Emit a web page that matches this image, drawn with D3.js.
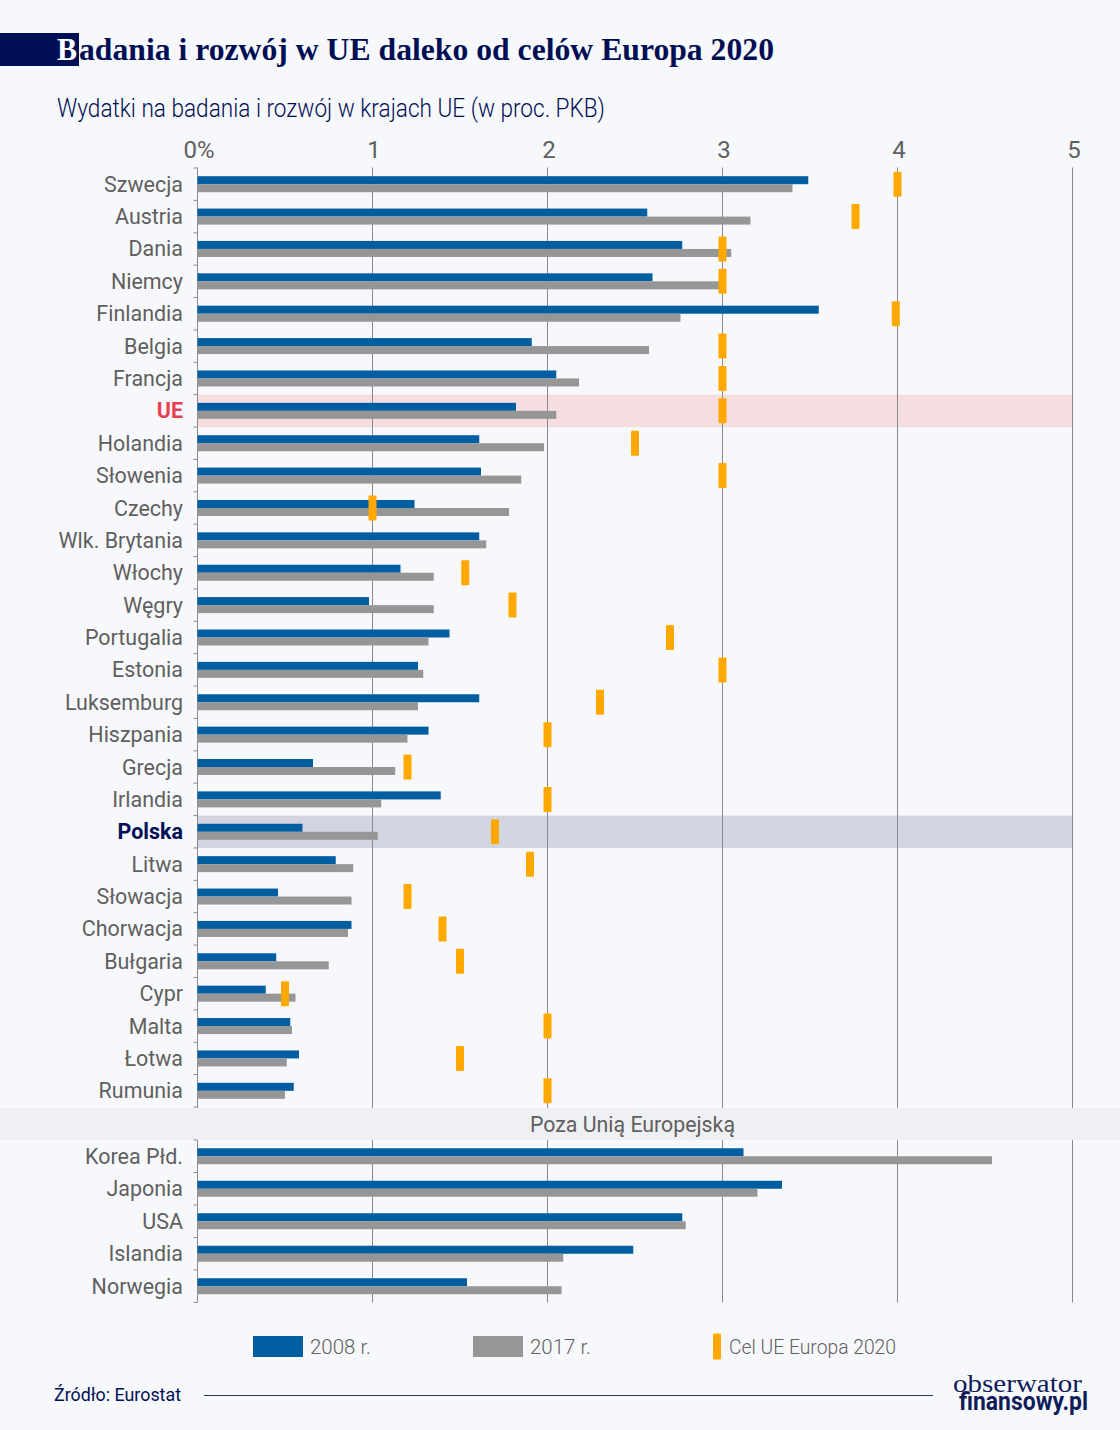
<!DOCTYPE html>
<html>
<head>
<meta charset="utf-8">
<script src="https://d3js.org/d3.v7.min.js"></script>
<style>
  html, body { margin: 0; padding: 0; background: #f7f8fb; }
  svg { display: block; }
  text { font-family: Roboto, sans-serif; }
  .axis .domain { display: none; }
</style>
</head>
<body>
<div id="chart"></div>
<script>
const euCountries = ['Szwecja', 'Austria', 'Dania', 'Niemcy', 'Finlandia', 'Belgia', 'Francja', 'UE', 'Holandia', 'Słowenia',
    'Czechy', 'Wlk. Brytania', 'Włochy', 'Węgry', 'Portugalia', 'Estonia', 'Luksemburg', 'Hiszpania', 'Grecja', 'Irlandia',
    'Polska', 'Litwa', 'Słowacja', 'Chorwacja', 'Bułgaria', 'Cypr', 'Malta', 'Łotwa', 'Rumunia'];
const eu2008 = [3.49, 2.57, 2.77, 2.60, 3.55, 1.91, 2.05, 1.82, 1.61, 1.62,
    1.24, 1.61, 1.16, 0.98, 1.44, 1.26, 1.61, 1.32, 0.66, 1.39,
    0.60, 0.79, 0.46, 0.88, 0.45, 0.39, 0.53, 0.58, 0.55];
const eu2017 = [3.40, 3.16, 3.05, 3.02, 2.76, 2.58, 2.18, 2.05, 1.98, 1.85,
    1.78, 1.65, 1.35, 1.35, 1.32, 1.29, 1.26, 1.20, 1.13, 1.05,
    1.03, 0.89, 0.88, 0.86, 0.75, 0.56, 0.54, 0.51, 0.50];
const euTarget = [4, 3.76, 3, 3, 3.99, 3, 3, 3, 2.5, 3,
    1, null, 1.53, 1.8, 2.7, 3, 2.3, 2, 1.2, 2,
    1.7, 1.9, 1.2, 1.4, 1.5, 0.5, 2, 1.5, 2];

const otherCountries = ['Korea Płd.', 'Japonia', 'USA', 'Islandia', 'Norwegia'];
const other2008 = [3.12, 3.34, 2.77, 2.49, 1.54];
const other2017 = [4.54, 3.20, 2.79, 2.09, 2.08];

const xTicks = [0, 1, 2, 3, 4, 5];
const legendItems = ['2008 r.', '2017 r.', 'Cel UE Europa 2020'];

const colors = { y2008: '#005ea1', y2017: '#969696', target: '#ffa800', navy: '#000f55', label: '#5f5f5f' };

const width = 1120;
const height = 1430;
const svg = d3.select('#chart').append('svg')
    .attr('width', width)
    .attr('height', height);

svg.append('rect').attr('width', width).attr('height', height).attr('fill', '#f7f8fb');

const xScale = d3.scaleLinear().domain([0, 5]).range([197.5, 1072.5]);
const yEu = d3.scaleBand().domain(euCountries).range([168, 1107]);
const yOther = d3.scaleBand().domain(otherCountries).range([1140, 1302.5]);

// squeeze text horizontally, the original face is narrower than anything installed
function squeeze(sel, k) {
    sel.each(function() {
        const len = this.getComputedTextLength();
        d3.select(this).attr('textLength', len * k).attr('lengthAdjust', 'spacingAndGlyphs');
    });
}

// title
svg.append('rect').attr('x', 0).attr('y', 33).attr('width', 79).attr('height', 33).attr('fill', colors.navy);
svg.append('text').attr('x', 57).attr('y', 60)
    .attr('font-size', 31).attr('font-weight', 700).attr('fill', '#fff')
    .attr('textLength', 20).attr('lengthAdjust', 'spacingAndGlyphs')
    .style('font-family', 'Liberation Serif, serif')
    .text('B');
svg.append('text').attr('x', 79).attr('y', 60)
    .attr('font-size', 31).attr('font-weight', 700).attr('fill', colors.navy)
    .attr('textLength', 695).attr('lengthAdjust', 'spacingAndGlyphs')
    .style('font-family', 'Liberation Serif, serif')
    .text('adania i rozwój w UE daleko od celów Europa 2020');
svg.append('text').attr('x', 57).attr('y', 117)
    .attr('font-size', 25).attr('font-weight', 300).attr('fill', colors.navy)
    .attr('textLength', 548).attr('lengthAdjust', 'spacingAndGlyphs')
    .text('Wydatki na badania i rozwój w krajach UE (w proc. PKB)');

// highlighted rows
[['UE', '#f6dde0'], ['Polska', '#d2d4e2']].forEach(([name, fill]) => {
    svg.append('rect')
        .attr('x', xScale(0))
        .attr('y', yEu(name))
        .attr('width', xScale(5) - xScale(0))
        .attr('height', yEu.bandwidth())
        .attr('fill', fill);
});

// band between the two groups
svg.append('rect').attr('x', 0).attr('y', 1108).attr('width', width).attr('height', 32).attr('fill', '#eff0f4');
svg.append('text').attr('x', 632.5).attr('y', 1132)
    .attr('text-anchor', 'middle').attr('font-size', 22).attr('fill', colors.label)
    .attr('textLength', 205).attr('lengthAdjust', 'spacingAndGlyphs')
    .text('Poza Unią Europejską');

// grid
[[yEu.range()[0] - 0.5, yEu.range()[1] + 1], [yOther.range()[0], yOther.range()[1]]].forEach(([y0, y1]) => {
    svg.append('g').selectAll('line').data(xTicks).join('line')
        .attr('x1', d => xScale(d)).attr('x2', d => xScale(d))
        .attr('y1', y0).attr('y2', y1)
        .attr('stroke', '#8a8a8a').attr('stroke-width', 1);
});

// x axis labels
const xAxis = d3.axisTop(xScale)
    .tickValues(xTicks)
    .tickSize(0)
    .tickPadding(0)
    .tickFormat(d => d === 0 ? '0%' : d);
svg.append('g')
    .attr('class', 'axis x-axis')
    .attr('transform', 'translate(1,158)')
    .call(xAxis)
    .selectAll('text')
    .attr('font-size', 24)
    .attr('fill', colors.label)
    .style('font-family', 'Roboto, sans-serif');

function drawGroup(names, yScale, v2008, v2017, target) {
    const barH = 8;
    const g = svg.append('g');

    // row ticks at the band edges
    const edges = names.map(d => yScale(d)).concat(yScale.range()[1]);
    g.selectAll('line.row-tick').data(edges).join('line')
        .attr('class', 'row-tick')
        .attr('x1', xScale(0) - 4).attr('x2', xScale(0))
        .attr('y1', d => d).attr('y2', d => d)
        .attr('stroke', '#8a8a8a');

    const yAxis = d3.axisLeft(yScale).tickSize(0).tickPadding(14.5);
    const axisG = g.append('g')
        .attr('class', 'axis y-axis')
        .attr('transform', 'translate(' + xScale(0) + ',0.5)')
        .call(yAxis);
    axisG.selectAll('text')
        .attr('font-size', 22)
        .attr('fill', d => d === 'UE' ? '#e8404e' : d === 'Polska' ? colors.navy : colors.label)
        .attr('font-weight', d => (d === 'UE' || d === 'Polska') ? 700 : 400)
        .style('font-family', 'Roboto, sans-serif')
        .call(squeeze, 0.975);

    g.selectAll('rect.y2008').data(names).join('rect')
        .attr('class', 'y2008')
        .attr('x', xScale(0))
        .attr('y', d => yScale(d) + yScale.bandwidth() / 2 - barH)
        .attr('width', (d, i) => xScale(v2008[i]) - xScale(0))
        .attr('height', barH)
        .attr('fill', colors.y2008);

    g.selectAll('rect.y2017').data(names).join('rect')
        .attr('class', 'y2017')
        .attr('x', xScale(0))
        .attr('y', d => yScale(d) + yScale.bandwidth() / 2)
        .attr('width', (d, i) => xScale(v2017[i]) - xScale(0))
        .attr('height', barH)
        .attr('fill', colors.y2017);

    if (target) {
        g.selectAll('rect.target').data(names.filter((d, i) => target[i] !== null)).join('rect')
            .attr('class', 'target')
            .attr('x', d => xScale(target[names.indexOf(d)]) - 4)
            .attr('y', d => yScale(d) + yScale.bandwidth() / 2 - 12.5)
            .attr('width', 8)
            .attr('height', 25)
            .attr('rx', 1)
            .attr('fill', colors.target);
    }
}

drawGroup(euCountries, yEu, eu2008, eu2017, euTarget);
drawGroup(otherCountries, yOther, other2008, other2017, null);

// legend
const legendY = 1346.5;
const legendTextX = [310, 530, 729];
const legendTextLen = [61, 61, 167];
const legend = svg.append('g');
legend.append('rect').attr('x', 253).attr('y', legendY - 10.5).attr('width', 50).attr('height', 21).attr('fill', colors.y2008);
legend.append('rect').attr('x', 473).attr('y', legendY - 10.5).attr('width', 50).attr('height', 21).attr('fill', colors.y2017);
legend.append('rect').attr('x', 713).attr('y', legendY - 13).attr('width', 8).attr('height', 26).attr('rx', 1).attr('fill', colors.target);
legend.selectAll('text').data(legendItems).join('text')
    .attr('x', (d, i) => legendTextX[i])
    .attr('y', legendY + 7.5)
    .attr('font-size', 21)
    .attr('font-weight', 300)
    .attr('fill', colors.label)
    .attr('textLength', (d, i) => legendTextLen[i])
    .attr('lengthAdjust', 'spacingAndGlyphs')
    .text(d => d);

// footer
svg.append('text').attr('x', 54).attr('y', 1401)
    .attr('font-size', 18).attr('fill', colors.navy)
    .attr('textLength', 127).attr('lengthAdjust', 'spacingAndGlyphs')
    .text('Źródło: Eurostat');
svg.append('line').attr('x1', 204).attr('x2', 933).attr('y1', 1395.5).attr('y2', 1395.5)
    .attr('stroke', '#2a3566').attr('stroke-width', 1);
svg.append('text').attr('x', 953).attr('y', 1392)
    .attr('font-size', 25).attr('fill', '#101c5a')
    .attr('textLength', 129).attr('lengthAdjust', 'spacingAndGlyphs')
    .style('font-family', 'Liberation Serif, serif')
    .text('obserwator');
svg.append('text').attr('x', 959).attr('y', 1410)
    .attr('font-size', 25).attr('font-weight', 700).attr('fill', '#101c5a')
    .attr('textLength', 129).attr('lengthAdjust', 'spacingAndGlyphs')
    .text('finansowy.pl');
</script>
</body>
</html>
